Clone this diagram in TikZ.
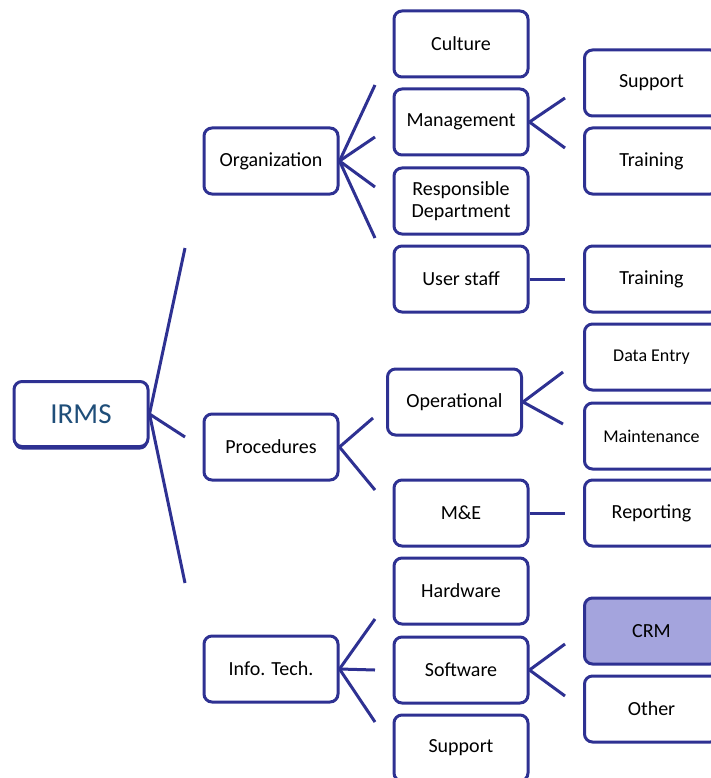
\documentclass[tikz,border=0pt]{standalone}
\usepackage{fontspec}
\setmainfont{Carlito}
\usetikzlibrary{shadows}
\definecolor{navy}{RGB}{46,49,146}
\definecolor{crmfill}{RGB}{164,164,221}
\definecolor{irmstext}{RGB}{31,78,121}

\begin{document}
\begin{tikzpicture}[x=1pt,y=-1pt]

      \useasboundingbox (0,0) rectangle (711,778);
      \clip (0,0) rectangle (711,778);

      \begin{scope}[every node/.style={draw=navy,line width=3pt,rounded corners=8pt,
          minimum width=134pt,minimum height=66pt,align=center,
          font=\fontsize{20}{22}\selectfont}]
        \node[drop shadow={shadow xshift=0pt,shadow yshift=-3pt,fill=navy,opacity=1},
          fill=white,minimum height=65pt,text=irmstext,
          font=\fontsize{29}{32}\selectfont] (irms) at (81,414) {IRMS};

        \node (org)  at (271,161) {Organization};
        \node (proc) at (271,447) {Procedures};
        \node (it)   at (271,669) {Info. Tech.};

        \node (cult) at (461,44)  {Culture};
        \node (mgmt) at (461,122) {Management};
        \node (resp) at (461,201) {Responsible\\Department};
        \node (user) at (461,279) {User staff};
        \node (oper) at (454.5,402) {Operational};
        \node (me)   at (461,513) {M\&E};
        \node (hw)   at (461,591) {Hardware};
        \node (sw)   at (461,670) {Software};
        \node (supp) at (461,748) {Support};

        \node (msupp)  at (651.5,83)  {Support};
        \node (mtrain) at (651.5,161) {Training};
        \node (utrain) at (651.5,279) {Training};
        \node[font=\fontsize{18}{20}\selectfont] (entry) at (651.5,357) {Data Entry};
        \node[font=\fontsize{18}{20}\selectfont] (maint) at (651.5,436) {Maintenance};
        \node (rep)    at (651.5,513) {Reporting};
        \node[fill=crmfill] (crm) at (651.5,631) {CRM};
        \node (other)  at (651.5,709) {Other};
      \end{scope}

      % ends of the fan lines
      \coordinate (i1) at (185,248);
      \coordinate (i2) at (185,437);
      \coordinate (i3) at (185,583);
      \coordinate (o1) at (375,85);
      \coordinate (o2) at (375,137);
      \coordinate (o3) at (375,187);
      \coordinate (o4) at (375,238);
      \coordinate (m1) at (565,98);
      \coordinate (m2) at (565,148);
      \coordinate (u1) at (565,279);
      \coordinate (p1) at (373,418);
      \coordinate (p2) at (375,490);
      \coordinate (q1) at (563,372);
      \coordinate (q2) at (563,424);
      \coordinate (e1) at (565,513);
      \coordinate (t1) at (375,619);
      \coordinate (t2) at (375,670);
      \coordinate (t3) at (375,722);
      \coordinate (s1) at (565,644);
      \coordinate (s2) at (565,696);

      \begin{scope}[every edge/.style={draw=navy,line width=3pt,line join=round}]
        \path (irms.east) edge (i1) edge (i2) edge (i3);
        \path (org.east)  edge (o1) edge (o2) edge (o3) edge (o4);
        \path (mgmt.east) edge (m1) edge (m2);
        \path (user.east) edge (u1);
        \path (proc.east) edge (p1) edge (p2);
        \path (oper.east) edge (q1) edge (q2);
        \path (me.east)   edge (e1);
        \path (it.east)   edge (t1) edge (t2) edge (t3);
        \path (sw.east)   edge (s1) edge (s2);
      \end{scope}

    \end{tikzpicture}
\end{document}
